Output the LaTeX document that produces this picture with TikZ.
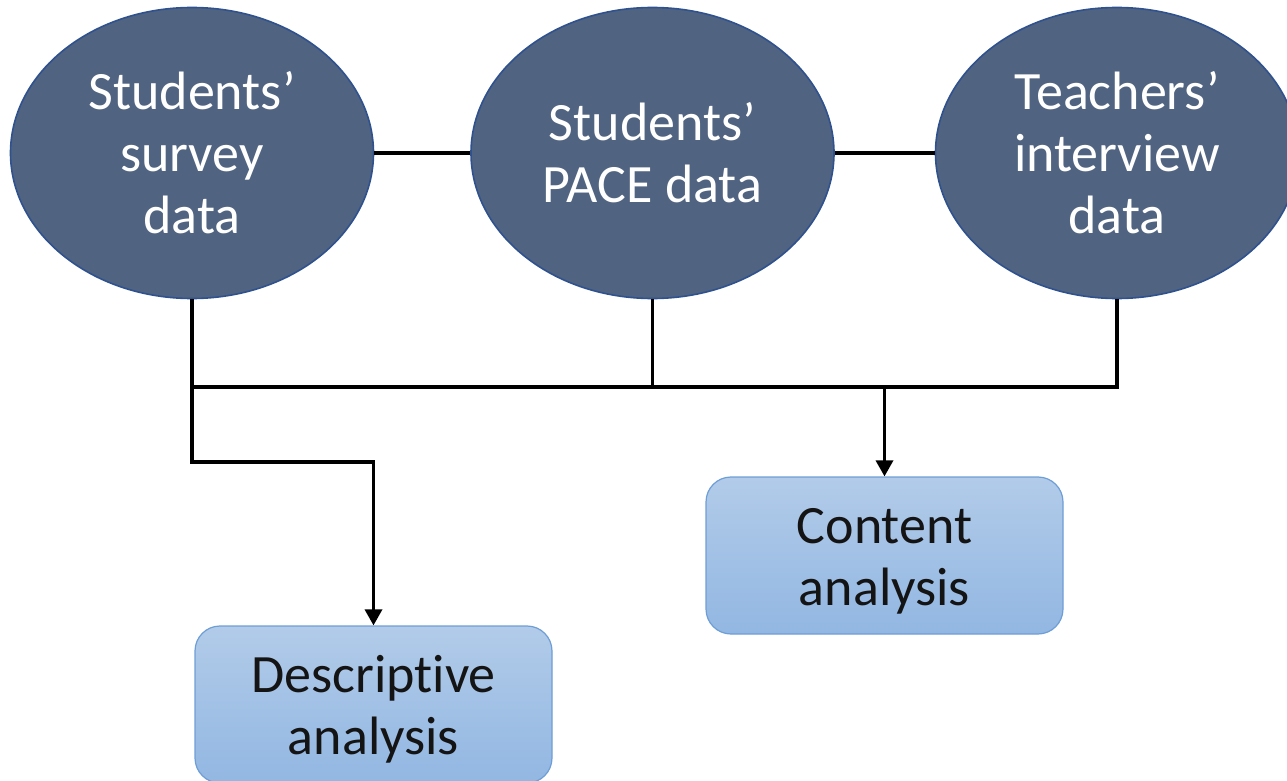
\documentclass[tikz,border=0pt]{standalone}
\usepackage{fontspec}
\setmainfont[Ligatures=NoCommon]{Carlito}
\usetikzlibrary{shapes.geometric,arrows.meta}
\definecolor{ellfill}{RGB}{80,99,128}
\definecolor{elldraw}{RGB}{47,82,143}
\definecolor{boxtop}{RGB}{178,203,233}
\definecolor{boxbot}{RGB}{146,183,226}
\definecolor{boxdraw}{RGB}{110,158,214}
\definecolor{boxtext}{RGB}{20,20,20}
\tikzset{
  datanode/.style={ellipse, draw=elldraw, line width=0.8pt, fill=ellfill,
    minimum width=181.5pt, minimum height=145.5pt, inner sep=0pt,
    align=center, text=white,
    font=\fontsize{27pt}{31pt}\selectfont},
  anabox/.style={rectangle, rounded corners=12.5pt, draw=boxdraw, line width=0.6pt,
    top color=boxtop, bottom color=boxbot,
    minimum width=178.5pt, minimum height=78.5pt, inner sep=0pt,
    align=center, text=boxtext,
    font=\fontsize{27pt}{31pt}\selectfont},
  link/.style={draw=black, line width=1.7pt},
  arrowlink/.style={link, -{Triangle[width=8.5pt,length=8pt]}}
}
\begin{document}
\begin{tikzpicture}[x=0.5pt,y=-0.5pt]
\useasboundingbox (0,0) rectangle (1287,781);
\clip (0,0) rectangle (1287,781);
\node[datanode] (e1) at (192,153) {Students’\\survey\\data};
\node[datanode] (e2) at (652.5,153) {Students’\\PACE data};
\node[datanode] (e3) at (1117,153) {Teachers’\\interview\\data};
\node[anabox] (content) at (884.5,555.5) {\rule{0pt}{23pt}Content\\analysis};
\node[anabox] (desc) at (373.5,704.5) {\rule{0pt}{23pt}Descriptive\\analysis};
\coordinate (j1) at (192,387);
\coordinate (j3) at (1117,387);
\coordinate (jc) at (884.5,387);
\coordinate (k) at (192,462);
\draw[link] (e1) -- (e2);
\draw[link] (e2) -- (e3);
\draw[link] (e1.south) -- (j1) -- (j3) -- (e3.south);
\draw[link] (e2.south) -- (e2.south |- j1);
\draw[arrowlink] (jc) -- (content.north);
\draw[arrowlink] (j1) -- (k) -| (desc.north);
\end{tikzpicture}
\end{document}
